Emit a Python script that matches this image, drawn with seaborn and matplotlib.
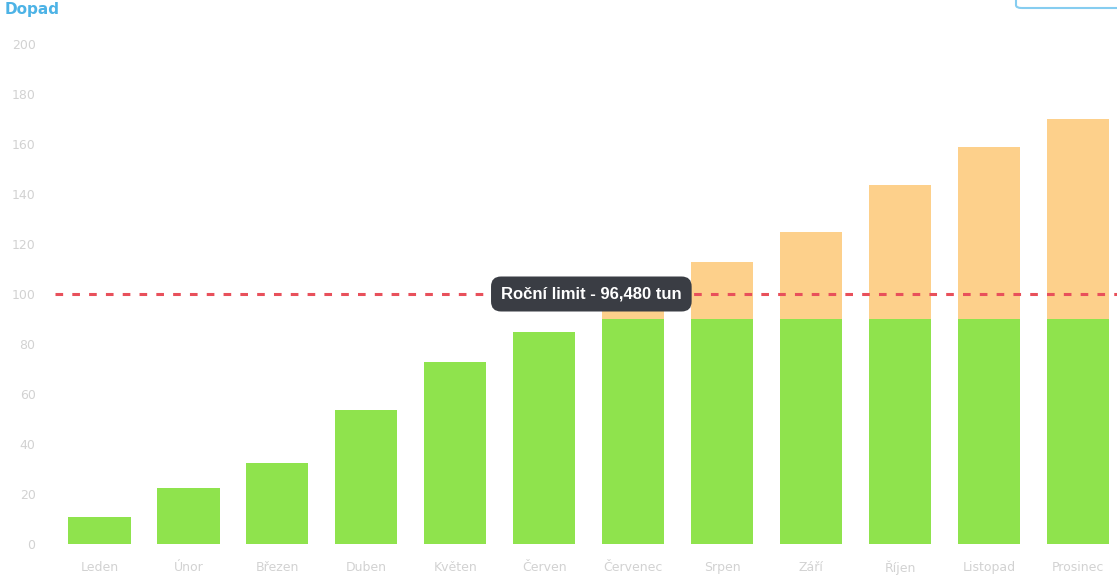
import matplotlib
matplotlib.use("Agg")
import matplotlib.pyplot as plt
import matplotlib.patches as mpatches
import seaborn as sns
import pandas as pd

months = ["Leden", "Únor", "Březen", "Duben", "Květen", "Červen", "Červenec",
          "Srpen", "Září", "Říjen", "Listopad", "Prosinec"]
within_limit = [11, 22.5, 32.5, 53.5, 73, 85, 90, 90, 90, 90, 90, 90]
total = [11, 22.5, 32.5, 53.5, 73, 85, 97, 113, 125, 143.5, 159, 170]
limit_value = 100
limit_label = "Roční limit - 96,480 tun"
y_ticks = [0, 20, 40, 60, 80, 100, 120, 140, 160, 180, 200]
title = "Dopad"

df = pd.DataFrame({"month": months, "within": within_limit, "total": total})

sns.set_theme(style="white")
plt.rcParams["font.family"] = ["DejaVu Sans"]

fig = plt.figure(figsize=(11.17, 5.82), dpi=100)
ax = fig.add_axes([55 / 1117, (582 - 544) / 582, 1 - 55 / 1117, (544 - 44) / 582])

sns.barplot(data=df, x="month", y="total", color="#fdd08b", width=0.7,
            saturation=1, ax=ax, order=months, linewidth=0, edgecolor="none")
sns.barplot(data=df, x="month", y="within", color="#8fe34d", width=0.7,
            saturation=1, ax=ax, order=months, linewidth=0, edgecolor="none")

ax.set_ylim(0, 200)
ax.set_xlim(-0.5, 11.44)
ax.set_yticks(y_ticks)
ax.set_yticklabels([str(v) for v in y_ticks])
ax.set_xlabel("")
ax.set_ylabel("")
for s in ax.spines.values():
    s.set_visible(False)
ax.tick_params(axis="y", length=0, pad=14, labelsize=9, labelcolor="#d2d2d2")
ax.tick_params(axis="x", length=0, pad=12, labelsize=9, labelcolor="#d2d2d2")
ax.grid(False)

ax.axhline(limit_value, color="#e8505b", linestyle=(0, (2.5, 3)), linewidth=2.2, zorder=3)

ax.text(5.53, limit_value, limit_label, ha="center", va="center",
        fontsize=12, fontweight="bold", color="white", family="Liberation Sans",
        zorder=5,
        bbox=dict(boxstyle="round,pad=0.6,rounding_size=0.6",
                  facecolor="#3a3d44", edgecolor="none"))

fig.text(5 / 1117, 1 - 2 / 582, title, ha="left", va="top", fontsize=11,
         color="#4db3e6", fontweight="bold")
rect = mpatches.FancyBboxPatch((1016 / 1117, (582 - 8) / 582), 0.2, 0.1,
                               boxstyle="round,pad=0,rounding_size=0.005",
                               transform=fig.transFigure, fill=False,
                               edgecolor="#86cdf0", linewidth=1.5, clip_on=False)
fig.patches.append(rect)

fig.savefig("out.png", dpi=100)
